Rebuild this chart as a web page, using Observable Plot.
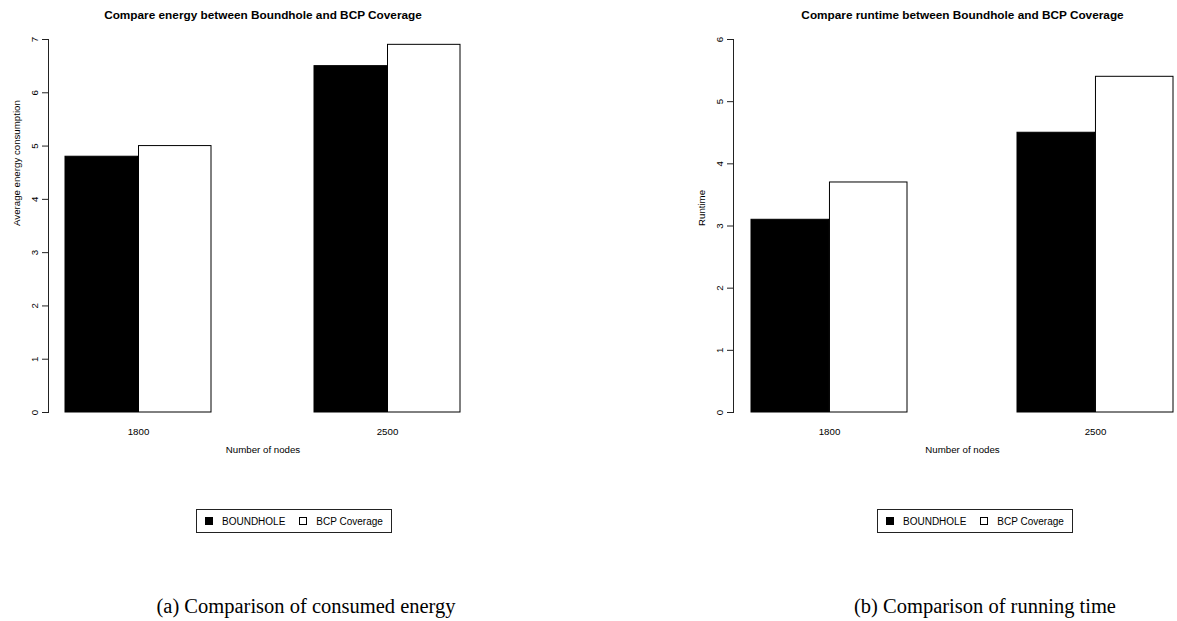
<!DOCTYPE html>
<html>
<head>
<meta charset="utf-8">
<script src="https://cdn.jsdelivr.net/npm/d3@7"></script>
<script src="https://cdn.jsdelivr.net/npm/@observablehq/plot@0.6"></script>
<style>
  html, body { margin: 0; padding: 0; background: #fff; }
  #wrap { position: relative; width: 1177px; height: 621px; overflow: hidden; background: #fff;
          font-family: "Liberation Sans", Arial, Helvetica, sans-serif; color: #000; }
  .panel { position: absolute; top: 0; height: 470px; }
  .panel svg { max-width: none !important; }
  .legend { position: absolute; top: 509px; height: 24px; box-sizing: border-box; border: 1px solid #222;
            display: inline-flex; align-items: center; padding: 0 8px 0 8px; font-size: 10px; white-space: nowrap; }
  .legend .sw { display: inline-block; width: 8px; height: 8px; box-sizing: border-box; border: 1px solid #000; }
  .legend .lbl { margin-left: 9px; }
  .legend .gap { margin-left: 14px; }
  .caption { position: absolute; top: 596px; font-family: "Liberation Serif", "Times New Roman", serif;
             font-size: 20.5px; line-height: 20.5px; white-space: nowrap; transform: translateX(-50%); color: #000; }
</style>
</head>
<body>
<div id="wrap">
  <div id="left" class="panel" style="left:0px;width:560px"></div>
  <div id="right" class="panel" style="left:600px;width:620px"></div>
</div>
<script>
// ---------------- data ----------------
const nodes = ["1800", "2500"];
const seriesNames = ["BOUNDHOLE", "BCP Coverage"];
const seriesFill = ["black", "white"];
const energyBoundhole = [4.8, 6.5];
const energyBCP = [5.0, 6.9];
const runtimeBoundhole = [3.1, 4.5];
const runtimeBCP = [3.7, 5.4];
const energyTicks = [0, 1, 2, 3, 4, 5, 6, 7];
const runtimeTicks = [0, 1, 2, 3, 4, 5, 6];
const titles = ["Compare energy between Boundhole and BCP Coverage", "Compare runtime between Boundhole and BCP Coverage"];
const yLabels = ["Average energy consumption", "Runtime"];
const xLabel = "Number of nodes";
const captions = ["(a) Comparison of consumed energy", "(b) Comparison of running time"];

// ---------------- chart builder ----------------
function makeChart({width, marginLeft, marginRight, ticks, a, b, title, ylabel}) {
  const height = 470, marginTop = 39, marginBottom = 58;
  const pIn = 0.412, pOut = 0.064;
  const band = d3.scaleBand().domain(nodes).range([marginLeft, width - marginRight])
    .paddingInner(pIn).paddingOuter(pOut);
  const half = band.bandwidth() / 2;
  const rows = nodes.map((n, i) => ({nodes: n, a: a[i], b: b[i]}));
  const font = "'Liberation Sans', Arial, Helvetica, sans-serif";
  return Plot.plot({
    width, height, marginLeft, marginRight, marginTop, marginBottom,
    style: {fontFamily: font, fontSize: "9.7px", color: "#000", background: "white", overflow: "visible", maxWidth: "none"},
    x: {type: "band", domain: nodes, paddingInner: pIn, paddingOuter: pOut, align: 0.5, axis: null},
    y: {domain: [0, d3.max(ticks)], axis: null},
    marks: [
      Plot.barY(rows, {x: "nodes", y: "a", fill: seriesFill[0], stroke: "#000", strokeWidth: 1, insetRight: half}),
      Plot.barY(rows, {x: "nodes", y: "b", fill: seriesFill[1], stroke: "#000", strokeWidth: 1, insetLeft: half}),
      Plot.axisX({tickSize: 0, tickPadding: 16, label: null, fontSize: 9.7}),
      Plot.axisY({ticks, tickFormat: d3.format("d"), tickSize: 6, tickPadding: 5, tickRotate: -90, label: null, fontSize: 9.7, stroke: "#222"}),
      Plot.frame({anchor: "left", stroke: "#222"}),
      Plot.text([title], {frameAnchor: "top", dy: -24, fontWeight: "bold", fontSize: 11.8, lineAnchor: "middle"}),
      Plot.text([xLabel], {frameAnchor: "bottom", dy: 37, fontSize: 9.7, lineAnchor: "middle"}),
      Plot.text([ylabel], {frameAnchor: "left", dx: -32, rotate: -90, fontSize: 9.7, lineAnchor: "middle"})
    ]
  });
}

document.getElementById("left").appendChild(makeChart({
  width: 560, marginLeft: 48, marginRight: 83, ticks: energyTicks,
  a: energyBoundhole, b: energyBCP, title: titles[0], ylabel: yLabels[0]
}));
document.getElementById("right").appendChild(makeChart({
  width: 620, marginLeft: 133, marginRight: 29, ticks: runtimeTicks,
  a: runtimeBoundhole, b: runtimeBCP, title: titles[1], ylabel: yLabels[1]
}));

// ---------------- legends & captions ----------------
const wrap = document.getElementById("wrap");
[196, 877].forEach(left => {
  const lg = document.createElement("div");
  lg.className = "legend";
  lg.style.left = left + "px";
  seriesNames.forEach((name, i) => {
    const sw = document.createElement("span");
    sw.className = "sw" + (i > 0 ? " gap" : "");
    sw.style.background = seriesFill[i];
    const lb = document.createElement("span");
    lb.className = "lbl";
    lb.textContent = name;
    lg.appendChild(sw);
    lg.appendChild(lb);
  });
  wrap.appendChild(lg);
});
[306, 985].forEach((cx, i) => {
  const c = document.createElement("div");
  c.className = "caption";
  c.style.left = cx + "px";
  c.textContent = captions[i];
  wrap.appendChild(c);
});
</script>
</body>
</html>
